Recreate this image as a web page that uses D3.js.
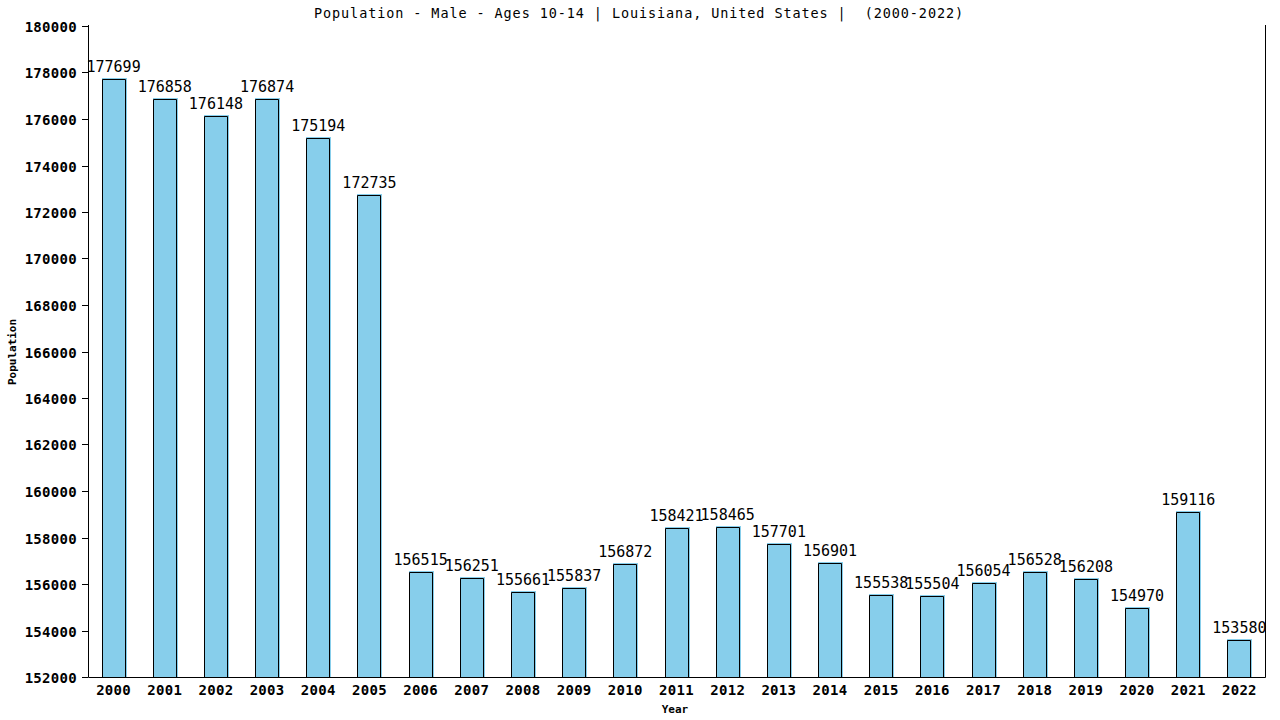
<!DOCTYPE html>
<html><head><meta charset="utf-8">
<script src="https://cdn.jsdelivr.net/npm/d3@7/dist/d3.min.js"></script>
<style>body{margin:0;background:#fff}svg{display:block}text{font-family:"DejaVu Sans Mono",monospace;white-space:pre}</style>
</head><body><svg id="c" width="1280" height="720"></svg>
<script>
const years = ["2000","2001","2002","2003","2004","2005","2006","2007","2008","2009","2010","2011","2012","2013","2014","2015","2016","2017","2018","2019","2020","2021","2022"];
const population = [177699,176858,176148,176874,175194,172735,156515,156251,155661,155837,156872,158421,158465,157701,156901,155538,155504,156054,156528,156208,154970,159116,153580];
const yTicks = [152000,154000,156000,158000,160000,162000,164000,166000,168000,170000,172000,174000,176000,178000,180000];
const title = "Population - Male - Ages 10-14 | Louisiana, United States |  (2000-2022)";

const svg = d3.select("#c");
const L = 88, R = 1265, T = 26, B = 677;
const x = d3.scaleBand().domain(years).range([L, R]).paddingInner(0.53).paddingOuter(0.265);
const y = d3.scaleLinear().domain([152000, 180000]).range([B, T]);

svg.append("text").attr("x", 639).attr("y", 18).attr("text-anchor", "middle")
  .attr("font-size", 13.5).attr("letter-spacing", 0.9).text(title);

// bars
const g = svg.append("g");
years.forEach((yr, i) => {
  const cx = x(yr) + x.bandwidth() / 2;
  const top = Math.round(y(population[i]));
  const x0 = Math.round(cx - 12);
  g.append("rect").attr("x", x0).attr("y", top - 1).attr("width", 25).attr("height", B - top + 1).attr("fill", "#87CEEB");
  g.append("path").attr("d", `M${x0 + 0.5},${B}V${top + 0.5}H${x0 + 23.5}V${B}`)
    .attr("fill", "none").attr("stroke", "#000").attr("stroke-width", 1);
  g.append("text").attr("x", cx).attr("y", top - 7).attr("text-anchor", "middle")
    .attr("font-size", 15).text(population[i]);
});

// axes lines
svg.append("path").attr("d", `M${L + 0.5},${T - 1}V${B + 0.5}H${R + 0.5}V${T - 1}`)
  .attr("fill", "none").attr("stroke", "#000");

// y ticks
yTicks.forEach(v => {
  const yy = Math.round(y(v)) + 0.5;
  svg.append("line").attr("x1", L - 6).attr("x2", L).attr("y1", yy).attr("y2", yy).attr("stroke", "#000");
  svg.append("text").attr("x", 77).attr("y", yy + 5).attr("text-anchor", "end")
    .attr("font-size", 14).attr("font-weight", "bold").attr("letter-spacing", 0.3).text(v);
});

// x labels
years.forEach(yr => {
  svg.append("text").attr("x", x(yr) + x.bandwidth() / 2).attr("y", 695).attr("text-anchor", "middle")
    .attr("font-size", 14).attr("font-weight", "bold").attr("letter-spacing", 0.3).text(yr);
});

svg.append("text").attr("x", 675).attr("y", 713).attr("text-anchor", "middle")
  .attr("font-size", 11).attr("font-weight", "bold").text("Year");
svg.append("text").attr("transform", "translate(16,352) rotate(-90)").attr("text-anchor", "middle")
  .attr("font-size", 11).attr("font-weight", "bold").text("Population");
</script></body></html>
